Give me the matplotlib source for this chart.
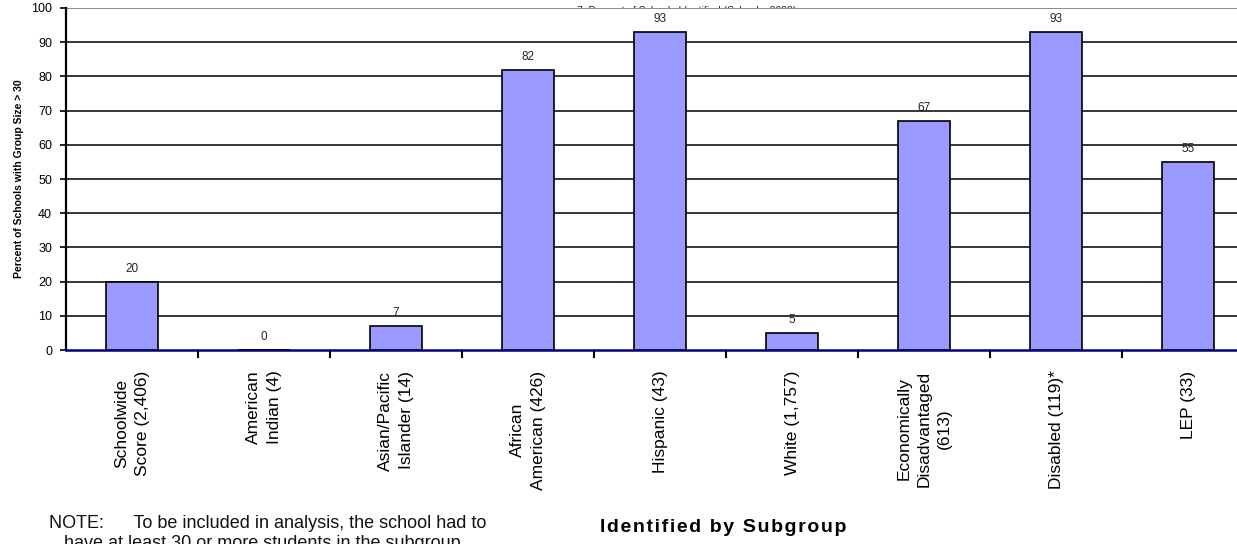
import matplotlib
matplotlib.use("Agg")
import matplotlib.pyplot as plt
import numpy as np

# subgroup categories (number of schools) and percent identified
categories = ["Schoolwide\nScore (2,406)", "American\nIndian (4)", "Asian/Pacific\nIslander (14)",
              "African\nAmerican (426)", "Hispanic (43)", "White (1,757)",
              "Economically\nDisadvantaged\n(613)", "Disabled (119)*", "LEP (33)"]
percents = [20, 0, 7, 82, 93, 5, 67, 93, 55]
y_ticks = [0, 10, 20, 30, 40, 50, 60, 70, 80, 90, 100]

plt.rcParams['font.family'] = ['Liberation Sans', 'DejaVu Sans']

fig = plt.figure(figsize=(12.37, 5.44), dpi=100)

# title sits behind the plot area, only its top shows
fig.text(0.555, 0.971, "7: Percent of Schools Identified (Schools, 2002)", ha='center', va='bottom',
         fontsize=7.5, color='#222222', zorder=-1)

ax = fig.add_axes([0.0534, 0.3566, 0.9604, 0.6287])
ax.set_zorder(1)

x = np.arange(len(categories))
ax.bar(x, percents, width=0.4, color='#9999FF', edgecolor='black', linewidth=1.2, zorder=3)

for xi, v in zip(x, percents):
    ax.annotate(str(v), (xi, v), xytext=(0, 5), textcoords='offset points',
                ha='center', va='bottom', fontsize=8.5, color='#222222', zorder=4)

ax.set_xlim(-0.5, len(categories) - 0.5)
ax.set_ylim(0, 100)
ax.set_yticks(y_ticks)
ax.tick_params(axis='y', labelsize=9, length=4, width=1.2, direction='out', pad=6)

for t in y_ticks[1:-1]:
    ax.axhline(t, color='black', linewidth=1.1, zorder=1)
ax.axhline(100, color='#808080', linewidth=1.3, zorder=1)

# ticks between categories, labels at category centers
ax.set_xticks(np.arange(len(categories)) + 0.5)
ax.set_xticklabels([])
ax.tick_params(axis='x', length=6, width=1.5, direction='out', color='black')
for xi, lab in zip(x, categories):
    ax.text(xi, -6, lab, rotation=90, ha='center', va='top', multialignment='center',
            fontsize=12.5, linespacing=1.45, transform=ax.transData, clip_on=False)

for side in ['top', 'right']:
    ax.spines[side].set_visible(False)
ax.spines['left'].set_linewidth(1.6)
ax.spines['bottom'].set_color('#000080')
ax.spines['bottom'].set_linewidth(1.8)

ax.set_ylabel("Percent of Schools with Group Size > 30", fontsize=7.5, fontweight='bold', labelpad=5)

xlab = "\u200a".join("Identified by Subgroup")
fig.text(0.5845, 0.022, xlab, ha='center', va='baseline', fontsize=14, fontweight='bold')

fig.text(0.040, 0.053, "NOTE:      To be included in analysis, the school had to\n   have at least 30 or more students in the subgroup.",
         ha='left', va='top', fontsize=13, color='#111111', linespacing=1.2)

fig.savefig("out.png", dpi=100)
